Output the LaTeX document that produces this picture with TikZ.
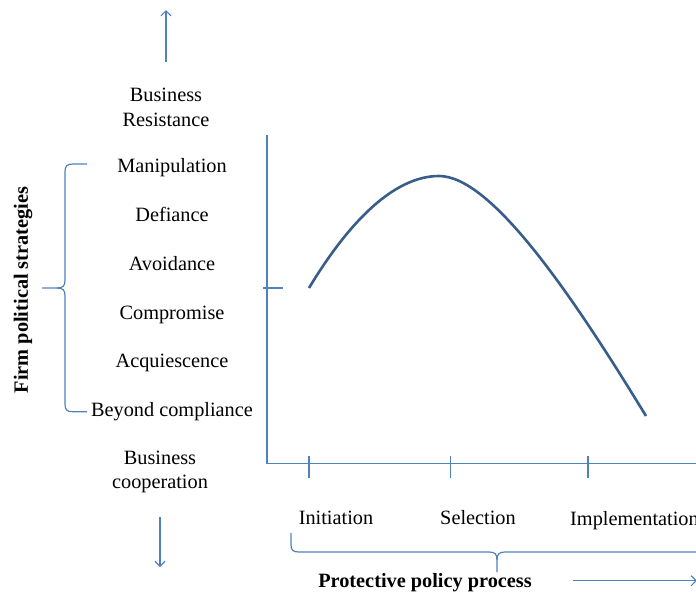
\documentclass[tikz,border=0pt]{standalone}
\usepackage{fontspec}
\setmainfont{Liberation Serif}
\usetikzlibrary{arrows.meta}
\definecolor{axisblue}{HTML}{4F81BD}
\definecolor{curveblue}{HTML}{385D8A}
\begin{document}
\begin{tikzpicture}[x=1pt,y=-1pt]
    \tikzset{txt/.style = {font=\fontsize{20.3}{24}\selectfont, anchor=base, inner sep=0pt}}
    \tikzset{txtb/.style = {font=\fontsize{20.3}{24}\selectfont\bfseries, inner sep=0pt}}
    \tikzset{axis/.style = {draw=axisblue, line width=1.2pt}}
    \tikzset{edge/.style = {->,> = {Straight Barb[length=5pt,width=10pt]}, draw=axisblue, line width=1.2pt}}
    \useasboundingbox (0,0) rectangle (696,592);
    % labels
    \node[txt] (res1) at (166,101.7) {Business};
    \node[txt] (res2) at (166,126) {Resistance};
    \node[txt] (man) at (172,172.7) {Manipulation};
    \node[txt] (def) at (172,221.5) {Defiance};
    \node[txt] (avo) at (172,270.2) {Avoidance};
    \node[txt] (com) at (172,319) {Compromise};
    \node[txt] (acq) at (172,367.7) {Acquiescence};
    \node[txt] (bey) at (172,416.4) {Beyond compliance};
    \node[txt] (coop1) at (160,464) {Business};
    \node[txt] (coop2) at (160,488.3) {cooperation};
    \node[txt] (ini) at (336,524) {Initiation};
    \node[txt] (sel) at (478,524) {Selection};
    \node[txt, anchor=base west] (imp) at (570,525) {Implementation};
    \node[txtb, anchor=base] (ppp) at (425,587) {Protective policy process};
    \node[txtb, rotate=90] (fps) at (23,290) {Firm political strategies};
    % arrows
    \coordinate (up1) at (166,62);
    \coordinate (up2) at (166,10);
    \coordinate (dn1) at (160,517);
    \coordinate (dn2) at (160,567);
    \coordinate (rt1) at (573,580.7);
    \coordinate (rt2) at (697,580.7);
    \draw[edge] (up1) -- (up2);
    \draw[edge] (dn1) -- (dn2);
    \draw[edge] (rt1) -- (rt2);
    % axes
    \coordinate (o) at (267,463.3);
    \coordinate (ytop) at (267,135);
    \coordinate (xend) at (700,463.3);
    \draw[axis] (ytop) -- (o) -- (xend);
    \draw[axis] (309,456) -- (309,478);
    \draw[axis] (450.7,456) -- (450.7,478);
    \draw[axis] (588,456) -- (588,478);
    \draw[axis] (263,288) -- (283,288);
    % braces
    \draw[axis] (87,164) -- (73,164) .. controls (67,164) and (65,166) .. (65,172)
        -- (65,280) .. controls (65,286) and (63,288) .. (57,288) -- (42,288);
    \draw[axis] (57,288) .. controls (63,288) and (65,290) .. (65,296)
        -- (65,404) .. controls (65,410) and (67,411.7) .. (73,411.7) -- (87,411.7);
    \draw[axis] (291,533) -- (291,545) .. controls (291,550) and (293,552) .. (299,552)
        -- (489,552) .. controls (495,552) and (497,554) .. (497,560) -- (497,572);
    \draw[axis] (497,560) .. controls (497,554) and (499,552) .. (505,552) -- (700,552);
    % curve
    \coordinate (c1) at (309,288);
    \coordinate (c2) at (439,176);
    \coordinate (c3) at (646,416);
    \draw[curveblue, line width=2.6pt] (c1) .. controls (350,220) and (395,176) .. (c2)
        .. controls (490,176) and (568,288) .. (c3);
\end{tikzpicture}
\end{document}
